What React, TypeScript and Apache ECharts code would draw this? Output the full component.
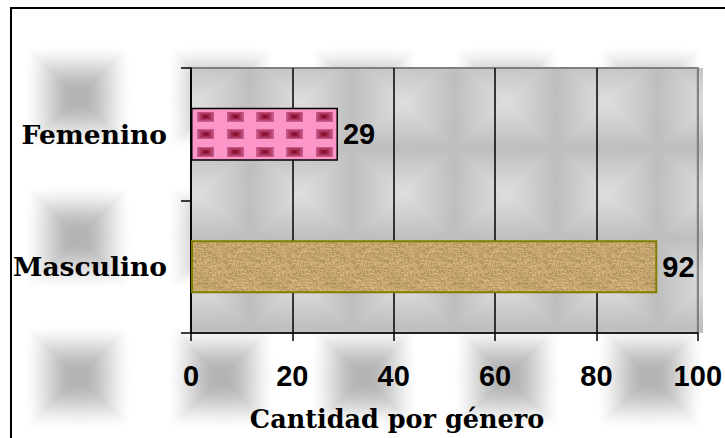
import React, { useEffect, useRef } from 'react';
import * as echarts from 'echarts';

// ---- data ----
const categories: string[] = ['Masculino', 'Femenino'];
const values: number[] = [92, 29];
const xMin = 0;
const xMax = 100;
const xInterval = 20;
const axisTitle = 'Cantidad por género';

// ---- layout ----
const W = 725;
const H = 438;
const GRID = { left: 191, top: 68, right: 22, bottom: 105 };

function hash(x: number, y: number): number {
  let n = Math.imul(x, 374761393) + Math.imul(y, 668265263);
  n = Math.imul(n ^ (n >>> 13), 1274126177);
  n = n ^ (n >>> 16);
  return (n >>> 0) / 4294967296;
}

function clamp01(t: number): number {
  return Math.max(0, Math.min(1, t));
}

function wrap(v: number, p: number): number {
  let r = ((v % p) + p) % p;
  if (r >= p / 2) r -= p;
  return r;
}

function makeCanvas(w: number, h: number, fn: (x: number, y: number) => number[]) {
  const c = document.createElement('canvas');
  c.width = w;
  c.height = h;
  const ctx = c.getContext('2d')!;
  const img = ctx.createImageData(w, h);
  for (let y = 0; y < h; y++) {
    for (let x = 0; x < w; x++) {
      const [r, g, b] = fn(x + 0.5, y + 0.5);
      const i = (y * w + x) * 4;
      img.data[i] = r;
      img.data[i + 1] = g;
      img.data[i + 2] = b;
      img.data[i + 3] = 255;
    }
  }
  ctx.putImageData(img, 0, 0);
  return c;
}

function lerp(a: number[], b: number[], t: number) {
  return [0, 1, 2].map((k) => Math.round(a[k] + (b[k] - a[k]) * t));
}

export default function App() {
  const ref = useRef<HTMLDivElement>(null);

  useEffect(() => {
    if (!ref.current) return;
    document.body.style.margin = '0';
    const chart = echarts.init(ref.current, undefined, { renderer: 'svg' });

    const plotW = W - GRID.left - GRID.right;
    const plotH = H - GRID.top - GRID.bottom;

    // outer pillow tiles (centres at 78,97 in page space)
    const OW = 143, OH = 140;
    const outerTile = makeCanvas(OW, OH, (x, y) => {
      const dx = Math.abs(wrap(x - 78, OW)) / (OW / 2);
      const dy = Math.abs(wrap(y - 97, OH)) / (OH / 2);
      const cheb = Math.max(dx, dy);
      const eu = Math.sqrt(dx * dx + dy * dy) / 1.35;
      const d = 0.85 * cheb + 0.15 * eu;
      const t = clamp01((d - 0.1) / 0.62);
      const s = t * t * (3 - 2 * t);
      const v = Math.round(180 + 75 * (0.4 * t + 0.6 * s));
      return [v, v, v];
    });
    // inner (plot area) tiles
    const IW = 102, IH = 90;
    const innerTile = makeCanvas(IW, IH, (x, y) => {
      const dx = Math.abs(wrap(x - 199, IW)) / (IW / 2);
      const dy = Math.abs(wrap(y - 103, IH)) / (IH / 2);
      const cheb = Math.max(dx, dy);
      const eu = Math.sqrt(dx * dx + dy * dy) / 1.35;
      const d = 0.85 * cheb + 0.15 * eu;
      const t = clamp01((d - 0.05) / 0.9);
      const v = Math.round(221 - 30 * t);
      return [v, v, v];
    });

    const band = plotH / categories.length;
    const barH = band * 0.4;
    const femIdx = categories.indexOf('Femenino');
    const femBandTop = GRID.top + (categories.length - 1 - femIdx) * band;
    const femBarTop = femBandTop + (band - barH) / 2;

    // pink bar texture: 10 x 3 cells, phase-locked to bar origin
    const PW = 296, PH = 53;
    const cw = PW / 10, ch = PH / 3;
    const pinkTile = makeCanvas(PW, PH, (x, y) => {
      const ax = Math.abs(wrap(x - GRID.left - cw / 2, cw));
      const ay = Math.abs(wrap(y - femBarTop - ch / 2, ch));
      if (ax <= 8.5 && ay <= 5) {
        const d = Math.max(ax / 8.5, ay / 5);
        return lerp([128, 0, 30], [205, 95, 145], d);
      }
      return [252, 150, 200];
    });
    // tan texture
    const TW = 64, TH = 64;
    const tanTile = makeCanvas(TW, TH, (x, y) => {
      const xi = Math.floor(x), yi = Math.floor(y);
      const n = hash(xi, yi);
      const r = hash(Math.floor(xi / 5), yi * 7 + 3);
      const k = 0.82 + 0.22 * n + 0.12 * r;
      return [Math.min(255, 198 * k), Math.min(255, 166 * k), Math.min(255, 110 * k)].map(Math.round);
    });

    const itemStyles = [
      {
        color: { image: tanTile, repeat: 'repeat', imageWidth: TW, imageHeight: TH },
        borderColor: '#808000',
        borderWidth: 2,
      },
      {
        color: { image: pinkTile, repeat: 'repeat', imageWidth: PW, imageHeight: PH },
        borderColor: '#000000',
        borderWidth: 1.5,
      },
    ];

    const splitColors = [] as string[];
    for (let v = xMin; v <= xMax; v += xInterval) splitColors.push(v === xMax ? '#808080' : '#000000');

    chart.setOption({
      animation: false,
      grid: {
        left: GRID.left,
        top: GRID.top,
        right: GRID.right,
        bottom: GRID.bottom,
        show: true,
        borderColor: '#808080',
        borderWidth: 2,
        backgroundColor: 'transparent',
      },
      xAxis: {
        type: 'value',
        min: xMin,
        max: xMax,
        interval: xInterval,
        axisLine: { show: true, lineStyle: { color: '#000', width: 1.5 } },
        axisTick: { show: true, length: 8, lineStyle: { color: '#000', width: 1.5 } },
        axisLabel: {
          margin: 28,
          color: '#000',
          fontFamily: 'Liberation Sans',
          fontWeight: 'bold',
          fontSize: 29,
        },
        splitLine: { show: true, lineStyle: { color: splitColors, width: 1.5 } },
      },
      yAxis: {
        type: 'category',
        data: categories,
        axisLine: { show: true, lineStyle: { color: '#000', width: 1.5 } },
        axisTick: { show: true, length: 10, lineStyle: { color: '#000', width: 1.5 } },
        axisLabel: {
          margin: 24,
          color: '#000',
          fontFamily: 'DejaVu Serif',
          fontWeight: 'bold',
          fontSize: 26.5,
        },
        splitLine: { show: false },
      },
      graphic: [
        {
          type: 'rect',
          z: -10,
          shape: { x: 11, y: 8, width: 900, height: 600 },
          style: {
            fill: { image: outerTile, repeat: 'repeat', imageWidth: OW, imageHeight: OH },
            stroke: '#000',
            lineWidth: 2,
          },
        },
        {
          type: 'rect',
          z: -9,
          shape: { x: GRID.left, y: GRID.top, width: plotW, height: plotH },
          style: {
            fill: { image: innerTile, repeat: 'repeat', imageWidth: IW, imageHeight: IH },
          },
        },
        {
          type: 'text',
          z: 10,
          x: 397,
          y: 419,
          style: {
            text: axisTitle,
            fontFamily: 'DejaVu Serif',
            fontWeight: 'bold',
            fontSize: 25.5,
            fill: '#000',
            align: 'center',
            verticalAlign: 'middle',
          },
        },
      ],
      series: [
        {
          type: 'bar',
          barWidth: '40%',
          data: values.map((v, i) => ({ value: v, itemStyle: itemStyles[i] })),
          label: {
            show: true,
            position: 'right',
            distance: 5,
            color: '#000',
            fontFamily: 'Liberation Sans',
            fontWeight: 'bold',
            fontSize: 29,
          },
        },
      ],
    });

    return () => chart.dispose();
  }, []);

  return (
    <div
      ref={ref}
      style={{ position: 'fixed', left: 0, top: 0, width: W, height: H, background: '#fff' }}
    />
  );
}
